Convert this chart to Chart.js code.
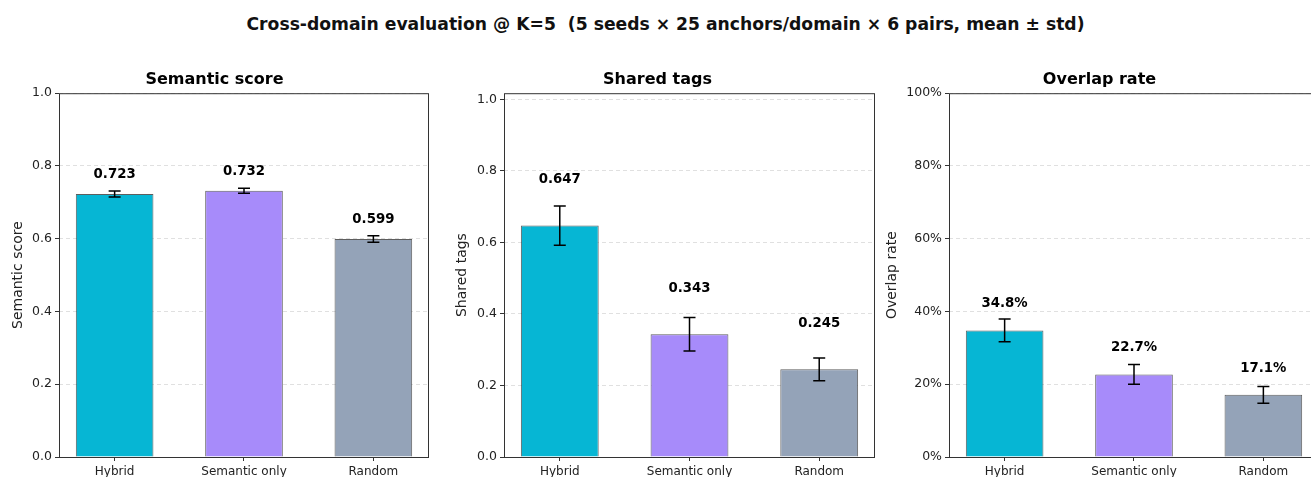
<!DOCTYPE html>
<html>
<head>
<meta charset="utf-8">
<script src="https://cdn.jsdelivr.net/npm/chart.js@4/dist/chart.umd.min.js"></script>
<style>
  html, body { margin: 0; padding: 0; background: #fff; }
  body { width: 1311px; height: 477px; overflow: hidden; position: relative; font-family: 'DejaVu Sans', sans-serif; }
  #suptitle {
    position: absolute; left: 0; width: 1331px; top: 14px;
    text-align: center; font-weight: bold; font-size: 17.2px; color: #111; white-space: pre;
  }
  canvas { position: absolute; top: 0; }
</style>
</head>
<body>
<div id="suptitle">Cross-domain evaluation @ K=5  (5 seeds × 25 anchors/domain × 6 pairs, mean ± std)</div>
<canvas id="c1" width="440" height="477" style="left:0px"></canvas>
<canvas id="c2" width="440" height="477" style="left:440px"></canvas>
<canvas id="c3" width="440" height="477" style="left:880px"></canvas>
<script>
// --- data ---
const categories = ['Hybrid', 'Semantic only', 'Random'];
const barColors = ['#06b6d4', '#a78bfa', '#94a3b8'];

const semanticMean = [0.723, 0.732, 0.599];
const semanticStd = [0.008, 0.007, 0.009];

const sharedMean = [0.647, 0.343, 0.245];
const sharedStd = [0.055, 0.047, 0.032];

const overlapMean = [0.348, 0.227, 0.171];
const overlapStd = [0.031, 0.027, 0.023];

const yTickValues = [0, 0.2, 0.4, 0.6, 0.8, 1.0];

const FONT = 'DejaVu Sans';
const TEXT = '#222';
const SPINE = '#333';

// error bars, value labels and the box spines (one plugin per panel)
function makeErrLabelPlugin(opts) {
  return {
    id: 'errLabel',
    afterDatasetsDraw(chart) {
      const xs = chart.scales.x, ys = chart.scales.y;
      const ctx = chart.ctx;
      ctx.save();
      opts.means.forEach((m, i) => {
        const x = xs.getPixelForValue(i);
        const yHi = ys.getPixelForValue(m + opts.stds[i]);
        const yLo = ys.getPixelForValue(m - opts.stds[i]);
        ctx.strokeStyle = '#000';
        ctx.lineWidth = 1.5;
        ctx.beginPath();
        ctx.moveTo(x, yHi); ctx.lineTo(x, yLo);
        ctx.moveTo(x - 6, yHi); ctx.lineTo(x + 6, yHi);
        ctx.moveTo(x - 6, yLo); ctx.lineTo(x + 6, yLo);
        ctx.stroke();

        ctx.fillStyle = '#000';
        ctx.font = 'bold 13.3px "' + FONT + '"';
        ctx.textAlign = 'center';
        ctx.textBaseline = 'middle';
        ctx.fillText(opts.labelFmt(m), x, ys.getPixelForValue(m + opts.labelOffset));
      });
      const a = chart.chartArea;
      ctx.strokeStyle = SPINE;
      ctx.lineWidth = 1;
      ctx.strokeRect(a.left + 0.5, a.top + 0.5, a.right - a.left - 1, a.bottom - a.top);
      ctx.restore();
    }
  };
}

function renderPanel(canvasId, opts) {
  const ctx = document.getElementById(canvasId).getContext('2d');
  return new Chart(ctx, {
    type: 'bar',
    data: {
      datasets: [{
        data: opts.means.map((m, i) => ({ x: i, y: m })),
        backgroundColor: barColors,
        borderColor: 'rgba(40,40,40,0.75)',
        borderWidth: 1,
        categoryPercentage: 1,
        barPercentage: 0.6
      }]
    },
    plugins: [makeErrLabelPlugin(opts)],
    options: {
      responsive: false,
      devicePixelRatio: 1,
      animation: false,
      layout: { padding: { left: 0, right: opts.rightPad, top: 0, bottom: 0 } },
      plugins: {
        legend: { display: false },
        tooltip: { enabled: false },
        title: {
          display: true,
          text: opts.title,
          color: '#000',
          font: { family: FONT, size: 16, weight: 'bold' },
          padding: { top: 70, bottom: 4 }
        }
      },
      scales: {
        x: {
          type: 'linear',
          min: -0.43,
          max: 2.43,
          offset: false,
          afterBuildTicks: s => { s.ticks = categories.map((_, i) => ({ value: i })); },
          afterFit: s => { s.height = 20; },
          grid: { offset: false, drawOnChartArea: false, drawTicks: true, tickLength: 4, tickColor: SPINE, tickWidth: 1 },
          border: { display: false },
          ticks: {
            autoSkip: false, maxRotation: 0, padding: 4, color: TEXT,
            font: { family: FONT, size: 12 },
            callback: v => categories[v]
          }
        },
        y: {
          min: 0,
          max: opts.yMax,
          afterBuildTicks: s => { s.ticks = yTickValues.map(v => ({ value: v })); },
          afterFit: s => { s.width = opts.yWidth; },
          grid: {
            color: 'rgba(0,0,0,0.12)', lineWidth: 1,
            tickLength: 4, tickColor: SPINE, tickWidth: 1, tickBorderDash: []
          },
          border: { display: false, dash: [4, 3] },
          title: {
            display: true, text: opts.yTitle, color: TEXT,
            font: { family: FONT, size: 14 },
            padding: { top: opts.yTitlePad, bottom: 0 }
          },
          ticks: {
            padding: 3, color: TEXT,
            font: { family: FONT, size: 12.5 },
            callback: opts.tickFmt
          }
        }
      }
    }
  });
}

renderPanel('c1', {
  title: 'Semantic score', yTitle: 'Semantic score',
  means: semanticMean, stds: semanticStd,
  yMax: 1.0, yWidth: 59, yTitlePad: 9.5, rightPad: 11, labelOffset: 0.053,
  tickFmt: v => Number(v).toFixed(1), labelFmt: v => v.toFixed(3)
});

renderPanel('c2', {
  title: 'Shared tags', yTitle: 'Shared tags',
  means: sharedMean, stds: sharedStd,
  yMax: 1.017, yWidth: 64, yTitlePad: 14.3, rightPad: 5, labelOffset: 0.128,
  tickFmt: v => Number(v).toFixed(1), labelFmt: v => v.toFixed(3)
});

renderPanel('c3', {
  title: 'Overlap rate', yTitle: 'Overlap rate',
  means: overlapMean, stds: overlapStd,
  yMax: 1.0, yWidth: 69, yTitlePad: 4.3, rightPad: 1, labelOffset: 0.073,
  tickFmt: v => Math.round(v * 100) + '%', labelFmt: v => (v * 100).toFixed(1) + '%'
});
</script>
</body>
</html>
